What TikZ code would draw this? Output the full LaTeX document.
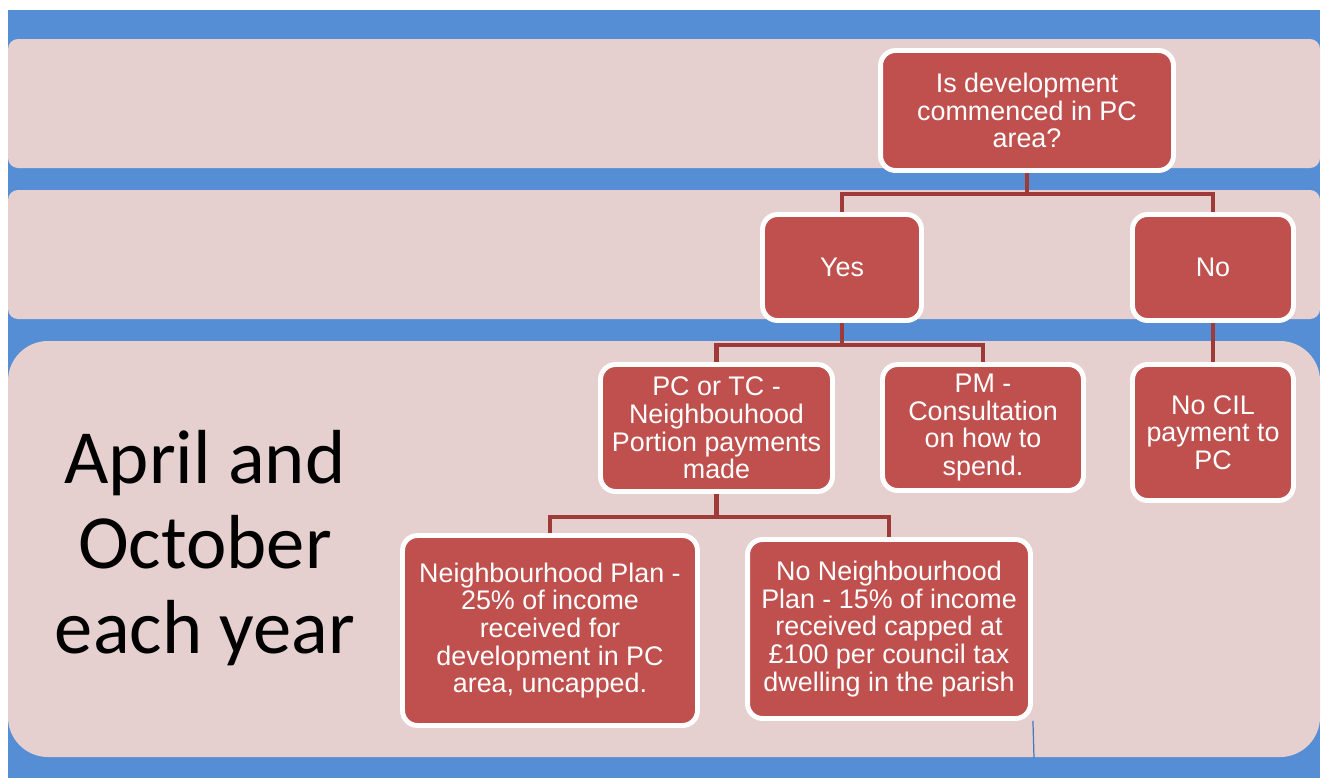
\documentclass[tikz,border=0pt]{standalone}
\usepackage{fontspec}
\setmainfont{Liberation Sans}
\newfontfamily\calibrifont{Carlito}
\usetikzlibrary{backgrounds}

\definecolor{bgblue}{RGB}{85,142,213}
\definecolor{bandpink}{RGB}{230,207,207}
\definecolor{boxred}{RGB}{192,80,77}
\definecolor{linkred}{RGB}{158,58,56}
\definecolor{strayblue}{RGB}{70,120,190}

\begin{document}
\begin{tikzpicture}[
        x=0.02cm, y=-0.02cm,
        stepbox/.style={rectangle, rounded corners=0.3cm, draw=white, line width=2.8pt, fill=boxred, text=white, align=center, inner sep=0pt, font=\fontsize{15.3}{15.7}\selectfont},
        link/.style={draw=linkred, line width=2.3pt},
        band/.style={fill=bandpink, rounded corners=0.2cm},
        stray/.style={draw=strayblue, line width=0.7pt}
    ]
    \useasboundingbox (0,0) rectangle (1327,778);

    % Row 1: question
    \node (question) [stepbox, minimum width=5.86cm, minimum height=2.4cm] at (1027,110.5) {Is development\\commenced in PC\\area?};

    % Row 2: answers
    \node (yes) [stepbox, minimum width=3.18cm, minimum height=2.12cm] at (842,267.5) {Yes};
    \node (no) [stepbox, minimum width=3.22cm, minimum height=2.12cm] at (1213,267.5) {No};

    % Row 3: outcomes
    \node (portion) [stepbox, minimum width=4.64cm, minimum height=2.54cm] at (716.5,428) {PC or TC -\\Neighbouhood\\Portion payments\\made};
    \node (consult) [stepbox, minimum width=4.02cm, minimum height=2.52cm] at (983,427.5) {PM -\\Consultation\\on how to\\spend.};
    \node (nocil) [stepbox, minimum width=3.22cm, minimum height=2.72cm] at (1213,432.5) {No CIL\\payment to\\PC};

    % Row 4: plan or no plan
    \node (plan) [stepbox, minimum width=5.9cm, minimum height=3.8cm] at (550,630.5) {Neighbourhood Plan -\\25\% of income\\received for\\development in PC\\area, uncapped.};
    \node (noplan) [stepbox, minimum width=5.66cm, minimum height=3.58cm] at (889,629) {No Neighbourhood\\Plan - 15\% of income\\received capped at\\£100 per council tax\\dwelling in the parish};

    % Side label
    \node (when) [align=center, font=\calibrifont\fontsize{43.6}{48.2}\selectfont] at (205,548) {April and\\October\\each year};

    \coordinate (tail) at (1034,758);

    % Bands and connectors
    \begin{scope}[on background layer]
        \fill [bgblue] (8,10) rectangle (1320,778);
        \fill [band] (8,39) rectangle (1320,168);
        \fill [band] (8,190) rectangle (1320,319);
        \fill [band, rounded corners=0.8cm] (8,341) rectangle (1320,757);

        \draw [link] (question.south) -- ++(0,21.5) -| (yes.north);
        \draw [link] (question.south) -- ++(0,21.5) -| (no.north);
        \draw [link] (yes.south) -- ++(0,22.5) -| (portion.north);
        \draw [link] (yes.south) -- ++(0,22.5) -| (consult.north);
        \draw [link] (no) -- (nocil);
        \draw [link] (portion.south) -- ++(0,23.5) -| (plan.north);
        \draw [link] (portion.south) -- ++(0,23.5) -| (noplan.north);
    \end{scope}

    \draw [stray] (noplan.south east) -- (tail);
\end{tikzpicture}
\end{document}
